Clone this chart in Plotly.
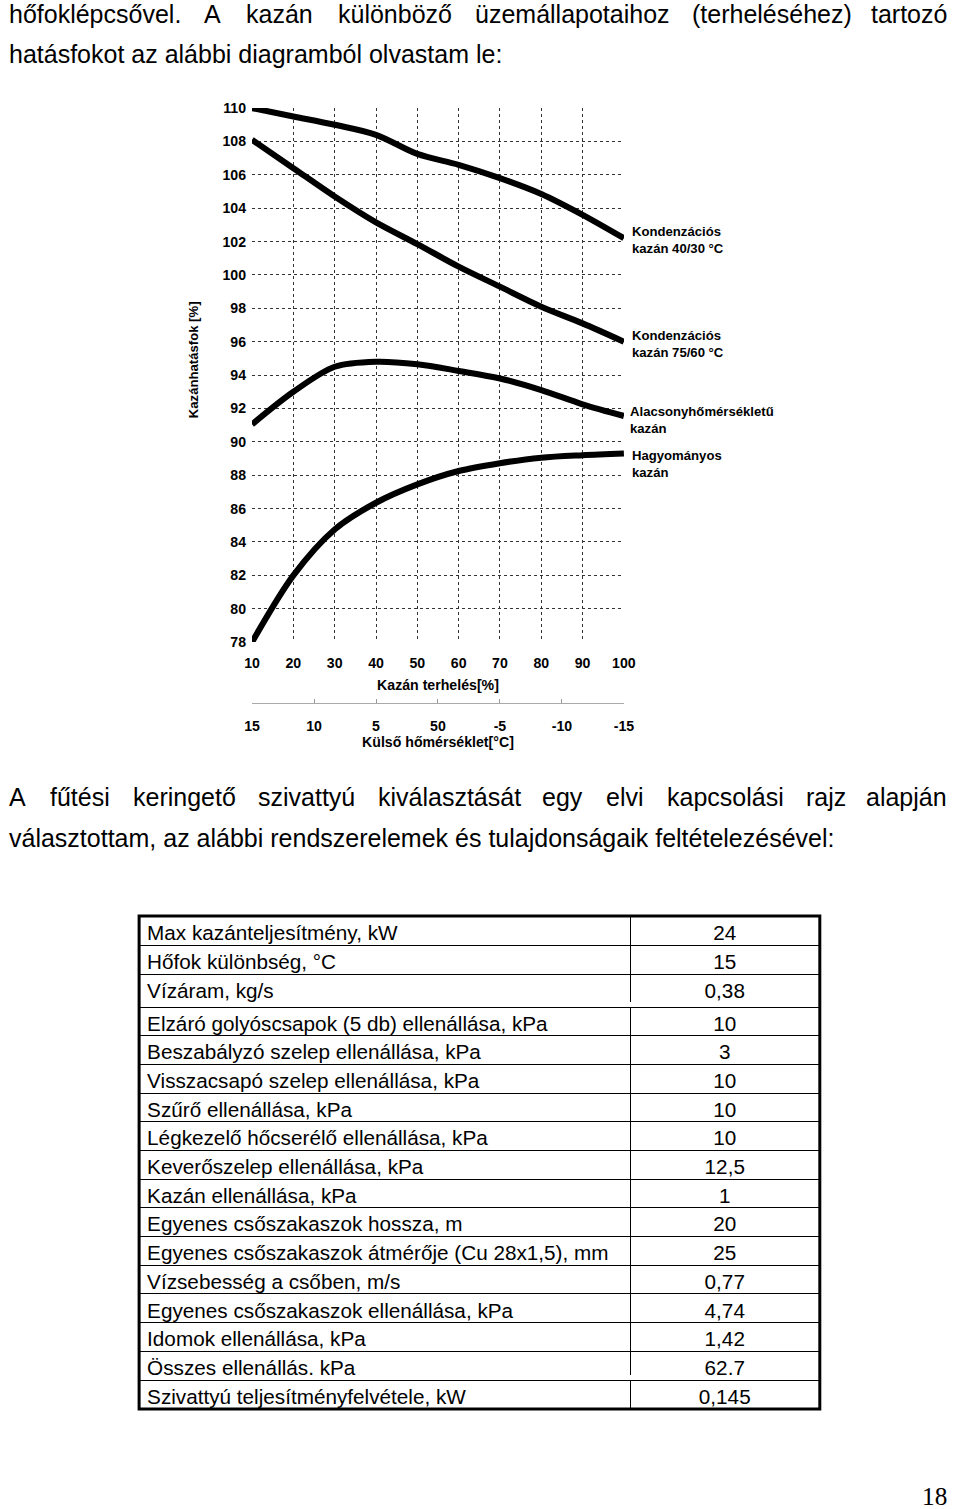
import plotly.graph_objects as go

W, H = 960, 1509
# The captured page is slightly larger than the figure (8px page margin), and the
# capture is scaled back to 960x1509; positions are pre-compensated for that.
SX, SY, OFF = 0.9796, 0.9894, 8.0
def fxp(t): return t / SX - OFF          # target px -> figure px (x)
def fyp(t): return t / SY - OFF          # target px -> figure px (y)
def px(t): return fxp(t) / W
def py(t): return 1 - fyp(t) / H
K = 1 / SY                               # size compensation

SANS = "Liberation Sans, Arial, sans-serif"

# ---------------- data ----------------
load = [10, 20, 30, 40, 50, 60, 70, 80, 90, 100]
kond_40_30 = [110.0, 109.5, 109.0, 108.4, 107.25, 106.6, 105.8, 104.85, 103.6, 102.2]
kond_75_60 = [108.1, 106.4, 104.7, 103.15, 101.85, 100.5, 99.3, 98.1, 97.1, 96.0]
alacsony = [91.05, 93.0, 94.5, 94.8, 94.65, 94.25, 93.8, 93.1, 92.25, 91.55]
hagyomanyos = [78.0, 82.0, 84.75, 86.35, 87.45, 88.25, 88.72, 89.05, 89.2, 89.3]

curve_labels = ["Kondenzációs<br>kazán 40/30 °C", "Kondenzációs<br>kazán 75/60 °C",
                "Alacsonyhőmérsékletű<br>kazán", "Hagyományos<br>kazán"]

y_ticks = list(range(78, 111, 2))
x_ticks = list(range(10, 101, 10))
temp_tickvals = [10, 25, 40, 55, 70, 85, 100]
temp_ticktext = ["15", "10", "5", "50", "-5", "-10", "-15"]

table_labels = [
    "Max kazánteljesítmény, kW",
    "Hőfok különbség, °C",
    "Vízáram, kg/s",
    "Elzáró golyóscsapok (5 db) ellenállása, kPa",
    "Beszabályzó szelep ellenállása, kPa",
    "Visszacsapó szelep ellenállása, kPa",
    "Szűrő ellenállása, kPa",
    "Légkezelő hőcserélő ellenállása, kPa",
    "Keverőszelep ellenállása, kPa",
    "Kazán ellenállása, kPa",
    "Egyenes csőszakaszok hossza, m",
    "Egyenes csőszakaszok átmérője (Cu 28x1,5), mm",
    "Vízsebesség a csőben, m/s",
    "Egyenes csőszakaszok ellenállása, kPa",
    "Idomok ellenállása, kPa",
    "Összes ellenállás, kPa",
    "Szivattyú teljesítményfelvétele, kW",
]
table_values = ["24", "15", "0,38", "10", "3", "10", "10", "10", "12,5", "1",
                "20", "25", "0,77", "4,74", "1,42", "62,7", "0,145"]

line1_words = ["hőfoklépcsővel.", "A", "kazán", "különböző", "üzemállapotaihoz",
               "(terheléséhez)", "tartozó"]
line2_text = "hatásfokot az alábbi diagramból olvastam le:"
line3_words = ["A", "fűtési", "keringető", "szivattyú", "kiválasztását", "egy",
               "elvi", "kapcsolási", "rajz", "alapján"]
line4_text = "választottam, az alábbi rendszerelemek és tulajdonságaik feltételezésével:"
page_number = "18"

# ---------------- layout constants (figure px, justified word starts) ----------------
line1_x = [0, 198.9, 242.2, 335.5, 476.0, 697.2, 883.6]
line3_x = [0, 41.7, 126.4, 254.2, 376.5, 544.6, 609.9, 672.4, 814.1, 879.4]

fig = go.Figure()

for ys in [kond_40_30, kond_75_60, alacsony, hagyomanyos]:
    fig.add_trace(go.Scatter(
        x=load, y=ys, mode="lines",
        line=dict(color="black", width=6 * K, shape="spline", smoothing=0.9),
        showlegend=False, hoverinfo="skip"))

# carrier trace for the outdoor-temperature axis
fig.add_trace(go.Scatter(x=temp_tickvals, y=[None] * len(temp_tickvals), xaxis="x2",
                         mode="markers", showlegend=False, hoverinfo="skip"))

# table in three blocks (double lines between blocks)
blocks = [(0, 3, 916, 1003), (3, 16, 1007, 1376), (16, 17, 1380, 1409)]
tfont = dict(family=SANS, size=20.5 * K, color="black")
for a, b, top, bot in blocks:
    n = b - a
    rh = (fyp(bot) - fyp(top)) / n
    labs = table_labels[a:b]
    vals = table_values[a:b]
    fig.add_trace(go.Table(
        domain=dict(x=[px(139), px(820)], y=[py(bot), py(top)]),
        columnwidth=[492, 189],
        header=dict(values=[labs[0], vals[0]], height=rh, align=["left", "center"],
                    font=tfont, line=dict(color="black", width=1), fill_color="white"),
        cells=dict(values=[labs[1:], vals[1:]], height=rh, align=["left", "center"],
                   font=tfont, line=dict(color="black", width=1), fill_color="white"),
    ))


def justified(words, xs, ycenter):
    out = []
    for i, (w, x) in enumerate(zip(words, xs)):
        last = i == len(words) - 1
        out.append(dict(text=w, x=1.0 if last else x / W, y=py(ycenter),
                        xanchor="right" if last else "left", yanchor="middle"))
    return out


annotations = []
annotations += justified(line1_words, line1_x, 14)
annotations.append(dict(text=line2_text, x=0, y=py(54), xanchor="left", yanchor="middle"))
annotations += justified(line3_words, line3_x, 797)
annotations.append(dict(text=line4_text, x=0, y=py(838), xanchor="left", yanchor="middle"))
for a in annotations:
    a.update(xref="paper", yref="paper", showarrow=False, borderpad=0,
             font=dict(family=SANS, size=25, color="black"))

lab_pos = [(631, 240), (631, 344), (629, 420), (631, 464)]
bold13 = dict(family=SANS, size=13 * K, color="black", weight="bold")
for t, (x, y) in zip(curve_labels, lab_pos):
    annotations.append(dict(text=t, x=px(x), y=py(y), xref="paper", yref="paper",
                            xanchor="left", yanchor="middle", align="left",
                            showarrow=False, borderpad=0, font=bold13))
annotations.append(dict(text="Kazánhatásfok [%]", x=px(193), y=py(360), xref="paper",
                        yref="paper", xanchor="center", yanchor="middle",
                        textangle=-90, showarrow=False, font=bold13))
annotations.append(dict(text=page_number, x=1.0, y=py(1496), xref="paper", yref="paper",
                        xanchor="right", yanchor="middle", showarrow=False, borderpad=0,
                        font=dict(family="Liberation Serif, Times New Roman, serif",
                                  size=25 * K, color="black")))

bold14 = dict(family=SANS, size=14 * K, color="black", weight="bold")
fig.update_layout(
    width=W, height=H, margin=dict(l=0, r=0, t=0, b=0),
    paper_bgcolor="white", plot_bgcolor="white", showlegend=False,
    annotations=annotations,
    shapes=[dict(type="rect", xref="paper", yref="paper", x0=px(139), x1=px(820),
                 y0=py(1409), y1=py(916), line=dict(color="black", width=3))],
    xaxis=dict(domain=[px(252), px(624)], range=[10, 100], tickvals=x_ticks,
               showgrid=True, gridcolor="#333", griddash="dot", gridwidth=1,
               zeroline=False, showline=False, ticks="", tickfont=bold14,
               ticklabelstandoff=11,
               title=dict(text="Kazán terhelés[%]", font=bold14, standoff=9)),
    yaxis=dict(domain=[py(642), py(108)], range=[78, 110], tickvals=y_ticks,
               showgrid=True, gridcolor="#333", griddash="dot", gridwidth=1,
               zeroline=False, showline=False, ticks="", tickfont=bold14,
               ticklabelstandoff=5),
    xaxis2=dict(overlaying="x", anchor="free", position=py(703), side="bottom",
                range=[10, 100], tickvals=temp_tickvals, ticktext=temp_ticktext,
                showline=True, linecolor="#aaa", linewidth=1, ticks="inside",
                ticklen=4, tickcolor="#999", showgrid=False, zeroline=False,
                tickfont=bold14, ticklabelstandoff=10,
                title=dict(text="Külső hőmérséklet[°C]", font=bold14, standoff=0)),
)

fig.write_html("out.html")
